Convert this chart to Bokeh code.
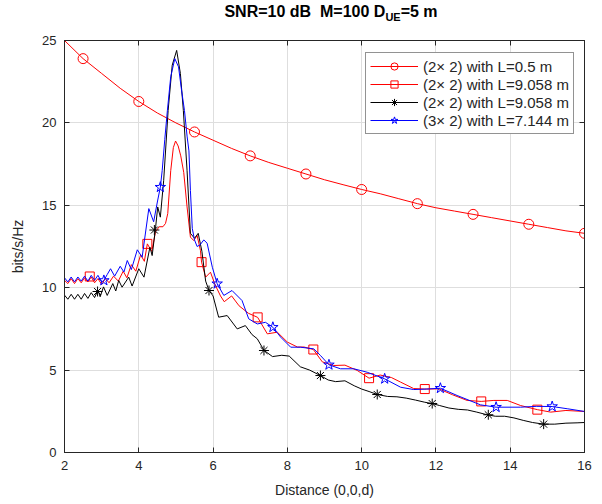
from bokeh.plotting import figure
from bokeh.models import Range1d, FixedTicker, LinearAxis, Legend, LegendItem, Div
from bokeh.layouts import column
from bokeh.embed import file_html
from bokeh.resources import INLINE

# ---------------- data ----------------
x_ticks = [2, 4, 6, 8, 10, 12, 14, 16]
y_ticks = [0, 5, 10, 15, 20, 25]

legend_labels = ["(2\u00d7 2) with L=0.5 m", "(2\u00d7 2) with L=9.058 m",
                 "(2\u00d7 2) with L=9.058 m", "(3\u00d7 2) with L=7.144 m"]

# red, circles: (2x2) L=0.5 m
circ_x = [2.0, 2.5, 3.0, 3.5, 4.0, 4.5, 5.0, 5.5, 6.0, 6.5, 7.0, 7.5, 8.0, 8.5, 9.0,
          9.5, 10.0, 10.5, 11.0, 11.5, 12.0, 12.5, 13.0, 13.5, 14.0, 14.5, 15.0, 15.5, 16.0]
circ_y = [25.0, 23.9, 23.0, 22.1, 21.3, 20.6, 20.0, 19.45, 18.95, 18.45, 18.0, 17.6, 17.25,
          16.9, 16.55, 16.25, 15.96, 15.7, 15.4, 15.1, 14.85, 14.65, 14.45, 14.25, 14.05,
          13.85, 13.65, 13.45, 13.3]
circ_mx = [2.5, 4.0, 5.5, 7.0, 8.5, 10.0, 11.5, 13.0, 14.5, 16.0]
circ_my = [23.9, 21.3, 19.45, 18.0, 16.9, 15.96, 15.1, 14.45, 13.85, 13.3]

# red, squares: (2x2) L=9.058 m
sq_x = [2.00, 2.09, 2.18, 2.27, 2.36, 2.45, 2.54, 2.63, 2.72, 2.81, 2.90, 3.00, 3.10, 3.20,
        3.32, 3.45, 3.58, 3.68, 3.80, 3.92, 4.05, 4.15, 4.23, 4.35, 4.45, 4.55, 4.65, 4.72,
        4.78, 4.86, 4.93, 4.99, 5.06, 5.13, 5.21, 5.30, 5.39, 5.48, 5.57, 5.66, 5.69, 5.80,
        5.93, 6.05, 6.20, 6.30, 6.50, 6.70, 6.95, 7.20, 7.46, 7.73, 8.00, 8.27, 8.45, 8.70,
        8.94, 9.25, 9.55, 9.88, 10.20, 10.50, 10.80, 11.05, 11.40, 11.70, 12.08, 12.45,
        12.84, 13.22, 13.56, 13.92, 14.28, 14.73, 15.09, 15.50, 16.00]
sq_y = [10.45, 10.25, 10.55, 10.25, 10.55, 10.3, 10.6, 10.35, 10.65, 10.3, 10.55, 10.2, 10.55,
        10.3, 10.7, 10.4, 11.0, 10.6, 11.4, 11.0, 12.0, 11.6, 12.66, 12.2, 13.4, 13.7, 13.7,
        13.9, 14.5, 17.1, 18.5, 18.9, 18.6, 18.0, 17.0, 14.9, 13.07, 12.86, 13.17, 12.26,
        11.55, 10.64, 10.94, 10.2, 9.5, 9.15, 9.5, 8.9, 8.45, 8.2, 7.2, 7.3, 6.7, 6.4, 6.4,
        6.25, 5.5, 5.28, 5.3, 4.98, 4.51, 4.7, 4.55, 4.27, 3.88, 3.85, 3.86, 3.5, 3.16, 3.1,
        3.16, 3.16, 2.85, 2.6, 2.45, 2.55, 2.49]
sq_mx = [2.68, 4.23, 5.69, 7.2, 8.7, 10.2, 11.7, 13.22, 14.73]
sq_my = [10.68, 12.66, 11.55, 8.2, 6.25, 4.51, 3.85, 3.1, 2.6]

# black, asterisks: (2x2) L=9.058 m
ast_x = [2.00, 2.09, 2.18, 2.27, 2.36, 2.45, 2.54, 2.63, 2.72, 2.81, 2.90, 2.96, 3.05, 3.15,
         3.30, 3.38, 3.46, 3.55, 3.73, 3.82, 4.00, 4.14, 4.30, 4.36, 4.45, 4.51, 4.58, 4.67,
         4.79, 4.90, 5.02, 5.12, 5.20, 5.30, 5.35, 5.39, 5.50, 5.60, 5.70, 5.80, 5.89, 6.00,
         6.15, 6.38, 6.65, 6.87, 7.05, 7.19, 7.37, 7.60, 7.85, 8.05, 8.35, 8.60, 8.89, 9.10,
         9.30, 9.55, 9.80, 10.00, 10.20, 10.42, 10.70, 10.95, 11.20, 11.45, 11.70, 11.90,
         12.10, 12.35, 12.60, 12.85, 13.10, 13.36, 13.60, 13.85, 14.10, 14.35, 14.60, 14.90,
         15.20, 15.50, 15.80, 16.00]
ast_y = [9.55, 9.3, 9.6, 9.3, 9.6, 9.3, 9.65, 9.35, 9.7, 9.4, 9.85, 9.45, 10.05, 9.53, 10.25,
         9.8, 10.44, 10.03, 10.64, 10.1, 11.15, 10.64, 12.46, 11.95, 13.6, 14.9, 14.28, 16.5,
         20.75, 23.5, 24.4, 23.0, 20.75, 17.1, 15.0, 13.3, 13.0, 13.3, 12.2, 10.4, 9.83, 9.5,
         8.21, 8.31, 7.5, 7.7, 7.15, 6.9, 6.2, 5.82, 5.9, 5.85, 5.2, 5.0, 4.67, 4.4, 4.3, 4.35,
         4.05, 3.85, 3.7, 3.52, 3.4, 3.38, 3.3, 3.18, 3.05, 2.97, 2.85, 2.7, 2.62, 2.58, 2.45,
         2.3, 2.2, 2.2, 2.1, 1.95, 1.82, 1.72, 1.72, 1.78, 1.8, 1.82]
ast_mx = [2.89, 4.42, 5.89, 7.37, 8.89, 10.42, 11.9, 13.41, 14.9]
ast_my = [9.77, 13.5, 9.83, 6.19, 4.67, 3.52, 2.97, 2.29, 1.72]

# blue, stars: (3x2) L=7.144 m
star_x = [2.00, 2.09, 2.18, 2.27, 2.36, 2.45, 2.54, 2.63, 2.72, 2.81, 2.90, 3.00, 3.06, 3.15,
          3.24, 3.35, 3.50, 3.60, 3.69, 3.80, 3.96, 4.09, 4.27, 4.40, 4.50, 4.58, 4.63, 4.70,
          4.77, 4.86, 4.97, 5.07, 5.15, 5.23, 5.30, 5.35, 5.39, 5.44, 5.50, 5.57, 5.65, 5.75,
          5.84, 5.98, 6.11, 6.29, 6.51, 6.78, 6.96, 7.19, 7.41, 7.61, 7.82, 8.09, 8.35, 8.71,
          8.89, 9.12, 9.43, 9.79, 10.15, 10.62, 11.05, 11.40, 11.75, 12.12, 12.57, 13.20,
          13.62, 14.28, 14.70, 15.13, 15.55, 16.00]
star_y = [10.6, 10.35, 10.65, 10.35, 10.65, 10.4, 10.7, 10.4, 10.75, 10.45, 10.75, 10.35, 10.44,
          10.8, 11.15, 10.7, 11.3, 10.95, 11.65, 11.1, 12.3, 11.85, 14.8, 14.0, 15.2, 16.1,
          17.1, 19.0, 20.75, 22.8, 23.9, 23.4, 22.0, 20.75, 19.2, 18.3, 15.9, 13.6, 12.9, 12.5,
          12.6, 12.9, 12.7, 11.24, 10.24, 9.53, 9.83, 9.22, 8.11, 7.8, 7.9, 7.6, 7.0, 6.39,
          6.39, 6.29, 5.89, 5.32, 5.08, 5.08, 4.87, 4.47, 3.96, 3.82, 3.85, 3.9, 3.46, 2.89,
          2.75, 2.75, 2.8, 2.79, 2.65, 2.49]
star_mx = [3.06, 4.58, 6.11, 7.61, 9.12, 10.62, 12.12, 13.62, 15.13]
star_my = [10.44, 16.1, 10.24, 7.6, 5.32, 4.47, 3.9, 2.75, 2.79]

# ---------------- figure ----------------
FONT = "Liberation Sans"
AX = "#262626"

p = figure(width=600, height=472, output_backend="svg", toolbar_location=None,
           x_range=Range1d(2, 16), y_range=Range1d(0, 25),
           min_border_left=64, min_border_right=16, min_border_top=12, min_border_bottom=48)
p.background_fill_color = "white"
p.border_fill_color = "white"
p.outline_line_color = AX
p.outline_line_width = 1

for ax, ticks in ((p.xaxis[0], x_ticks), (p.yaxis[0], y_ticks)):
    ax.ticker = FixedTicker(ticks=ticks)
    ax.major_tick_in = 5
    ax.major_tick_out = 0
    ax.minor_tick_line_color = None
    ax.axis_line_color = AX
    ax.major_tick_line_color = AX
    ax.major_label_text_font = FONT
    ax.major_label_text_font_size = "13px"
    ax.major_label_text_color = AX
    ax.axis_label_text_font = FONT
    ax.axis_label_text_font_size = "14px"
    ax.axis_label_text_font_style = "normal"
    ax.axis_label_text_color = AX

p.xaxis.axis_label = "Distance (0,0,d)"
p.yaxis.axis_label = "bits/s/Hz"
p.xaxis.major_label_standoff = 8
p.xaxis.axis_label_standoff = 9
p.yaxis.major_label_standoff = 8
p.yaxis.axis_label_standoff = 13

# box axes (top / right) with inward ticks, no labels
for loc, ticks in (("above", x_ticks), ("right", y_ticks)):
    ax = LinearAxis(ticker=FixedTicker(ticks=ticks),
                    major_label_overrides={t: "" for t in ticks},
                    major_label_text_font_size="1px", major_label_standoff=0,
                    major_tick_in=5, major_tick_out=0, minor_tick_line_color=None,
                    axis_line_color=AX, major_tick_line_color=AX)
    p.add_layout(ax, loc)

p.xgrid.ticker = FixedTicker(ticks=x_ticks)
p.ygrid.ticker = FixedTicker(ticks=y_ticks)
p.grid.grid_line_color = "#dedede"
p.grid.grid_line_width = 1

RED, BLACK, BLUE = "#ff0000", "#000000", "#0000ff"

l1 = p.line(circ_x, circ_y, line_color=RED, line_width=1)
m1 = p.scatter(circ_mx, circ_my, marker="circle", size=10, line_color=RED,
               fill_color=None, line_width=1)
l2 = p.line(sq_x, sq_y, line_color=RED, line_width=1)
m2 = p.scatter(sq_mx, sq_my, marker="square", size=9, line_color=RED,
               fill_color=None, line_width=1)
l3 = p.line(ast_x, ast_y, line_color=BLACK, line_width=1)
m3 = p.scatter(ast_mx, ast_my, marker="asterisk", size=10, line_color=BLACK,
               line_width=1)
l4 = p.line(star_x, star_y, line_color=BLUE, line_width=1)
m4 = p.scatter(star_mx, star_my, marker="star", size=11, line_color=BLUE,
               fill_color=None, line_width=1)

legend = Legend(items=[LegendItem(label=legend_labels[0], renderers=[l1, m1]),
                       LegendItem(label=legend_labels[1], renderers=[l2, m2]),
                       LegendItem(label=legend_labels[2], renderers=[l3, m3]),
                       LegendItem(label=legend_labels[3], renderers=[l4, m4])],
                location=(301, 318))
legend.label_text_font = FONT
legend.label_text_font_size = "15px"
legend.label_text_color = AX
legend.glyph_width = 48
legend.glyph_height = 18
legend.label_height = 18
legend.label_standoff = 5
legend.spacing = 0
legend.padding = 4
legend.margin = 0
legend.border_line_color = AX
legend.border_line_width = 1
legend.background_fill_color = "white"
legend.background_fill_alpha = 1
p.add_layout(legend)

# title with subscript (HTML)
title = Div(text="SNR=10 dB&nbsp; M=100 D<sub style='font-size:11px'>UE</sub>=5 m",
            width=520, height=28, margin=(0, 0, 0, 64),
            styles={"font-family": FONT, "font-size": "16px", "font-weight": "bold",
                    "text-align": "center", "color": "#000000", "padding-top": "3px",
                    "padding-left": "14px", "line-height": "18px"})

layout = column(title, p, spacing=0)
open("out.html", "w").write(file_html(layout, INLINE))
